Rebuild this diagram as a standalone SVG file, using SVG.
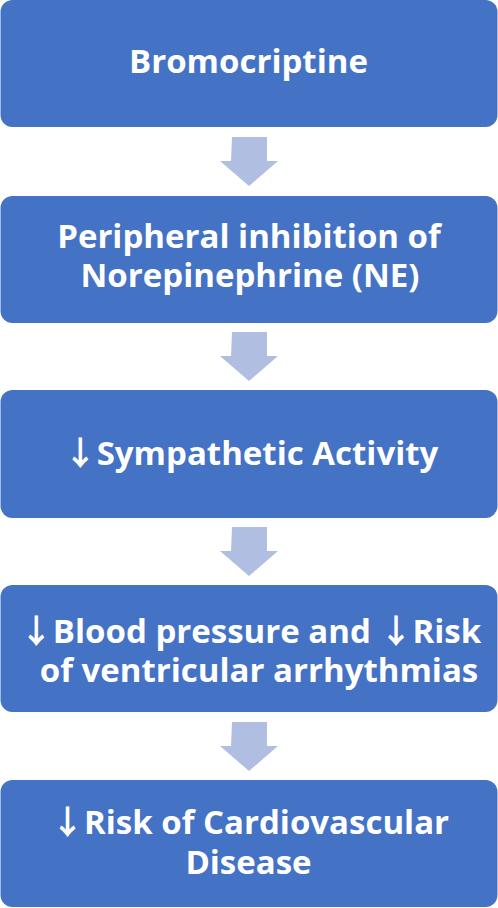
<svg xmlns="http://www.w3.org/2000/svg" width="498" height="908" viewBox="0 0 498 908">
<style>
.box{fill:#4472C4}
.arr{fill:#B0BFE1}
text{font-family:"Open Sans","Noto Sans","DejaVu Sans",sans-serif;font-weight:bold;font-size:33px;fill:#FFFFFF;text-anchor:middle}
.dn{font-family:"Noto Sans CJK JP","Noto Sans CJK SC",sans-serif;font-weight:bold}
</style>
<rect width="498" height="908" fill="#FFFFFF"/>
<g id="connectors">
<path class="arr" d="M232,137h35v24h11l-29,25l-29,-25h11z"/>
<path class="arr" d="M232,332h35v24h11l-29,25l-29,-25h11z"/>
<path class="arr" d="M232,527h35v24h11l-29,25l-29,-25h11z"/>
<path class="arr" d="M232,722h35v24h11l-29,25l-29,-25h11z"/>
</g>
<g id="n1"><rect class="box" x="0.5" y="0" width="497" height="127" rx="12"/><text x="248.5" y="73">Bromocriptine</text></g>
<g id="n2"><rect class="box" x="0.5" y="196" width="497" height="127" rx="12"/><text x="249" y="248">Peripheral inhibition of<tspan x="250" y="287">Norepinephrine (NE)</tspan></text></g>
<g id="n3"><rect class="box" x="0.5" y="390" width="497" height="128" rx="12"/><text x="251" y="465"><tspan class="dn">↓</tspan>Sympathetic Activity</text></g>
<g id="n4"><rect class="box" x="0.5" y="585" width="497" height="127" rx="12"/><text x="250.5" y="643"><tspan class="dn">↓</tspan>Blood pressure and <tspan class="dn">↓</tspan>Risk<tspan x="259" y="682">of ventricular arrhythmias</tspan></text></g>
<g id="n5"><rect class="box" x="0.5" y="780" width="497" height="127" rx="12"/><text x="250" y="834"><tspan class="dn">↓</tspan>Risk of Cardiovascular<tspan x="248.5" y="874">Disease</tspan></text></g>
</svg>
